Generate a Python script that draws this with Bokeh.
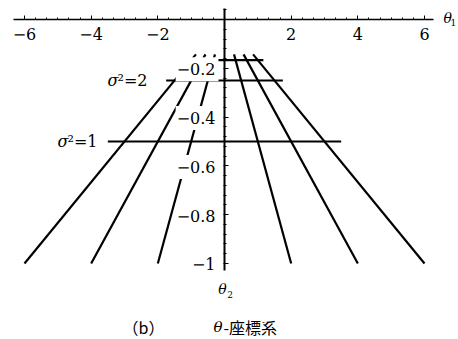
from bokeh.plotting import figure
from bokeh.models import LinearAxis, Range1d, Label, FixedTicker
from bokeh.embed import file_html
from bokeh.resources import INLINE
import numpy as np

# ---- data ----
mu_values = [-3, -2, -1, 1, 2, 3]          # lines of constant mu
sigma2_min, sigma2_max = 0.5, 3.5           # sigma^2 range of the mu lines
sigma2_levels = [1, 2, 3]                   # lines of constant sigma^2
mu_extent = 3.5                             # mu range of the sigma^2 lines
x_ticks = [-6, -4, -2, 2, 4, 6]
x_tick_labels = ["−6", "−4", "−2", "2", "4", "6"]
y_ticks = [-0.2, -0.4, -0.6, -0.8, -1.0]
y_tick_labels = ["−0.2", "−0.4", "−0.6", "−0.8", "−1"]
sigma_label_levels = [2, 1]
sigma_label_rest = ["²=2", "²=1"]

SERIF = "DejaVu Serif"
CJK = "Noto Sans CJK JP"

p = figure(width=458, height=339,
           x_range=Range1d(-6.72, 7.02), y_range=Range1d(-1.3115, 0.0779),
           output_backend="svg", toolbar_location=None,
           x_axis_location=None, y_axis_location=None, min_border=0)
p.outline_line_color = None
p.grid.visible = False
p.background_fill_color = "white"

# ---- axes through the origin ----
x_minor = [v for v in np.arange(-19, 20) / 3.0 if -6.33 <= v <= 6.27]
xaxis = LinearAxis(fixed_location=0, bounds=(-6.33, 6.27),
                   ticker=FixedTicker(ticks=x_ticks, minor_ticks=x_minor))
xaxis.major_label_overrides = {float(t): s for t, s in zip(x_ticks, x_tick_labels)}
xaxis.axis_line_width = 1.6
xaxis.major_tick_in = 4
xaxis.major_tick_out = 0
xaxis.minor_tick_in = 2
xaxis.minor_tick_out = 0
xaxis.major_label_standoff = 8
xaxis.major_label_text_font = SERIF
xaxis.major_label_text_font_size = "16px"
xaxis.major_label_text_color = "black"
p.add_layout(xaxis, "below")

y_minor = [v for v in np.round(np.arange(-1.0, 0.041, 0.04), 3)]
yaxis = LinearAxis(fixed_location=0, bounds=(-1.03, 0.045),
                   ticker=FixedTicker(ticks=y_ticks, minor_ticks=y_minor))
yaxis.major_label_overrides = {float(t): "" for t in y_ticks}
yaxis.axis_line_width = 2
yaxis.major_tick_in = 4
yaxis.major_tick_out = 0
yaxis.minor_tick_in = 2
yaxis.minor_tick_out = 1
p.add_layout(yaxis, "left")

# ---- constant-mu lines (theta1 = mu/s2, theta2 = -1/(2 s2)) ----
p.segment(x0=[m / sigma2_max for m in mu_values],
          y0=[-1 / (2 * sigma2_max)] * len(mu_values),
          x1=[m / sigma2_min for m in mu_values],
          y1=[-1 / (2 * sigma2_min)] * len(mu_values),
          line_color="black", line_width=2.2)

# ---- constant-sigma^2 lines ----
p.segment(x0=[-mu_extent / s for s in sigma2_levels],
          y0=[-1 / (2 * s) for s in sigma2_levels],
          x1=[mu_extent / s for s in sigma2_levels],
          y1=[-1 / (2 * s) for s in sigma2_levels],
          line_color="black", line_width=2.2)

# ---- y tick labels with white boxes (they interrupt the lines) ----
for v, t in zip(y_ticks, y_tick_labels):
    p.add_layout(Label(x=0, y=v, x_offset=-6, y_offset=-1, text=t,
                       text_align="right", text_baseline="middle",
                       text_font=SERIF, text_font_size="16px", text_color="black",
                       background_fill_color="white",
                       padding=dict(left=1, right=3, top=6, bottom=6)))

# ---- sigma^2 labels ----
sig_x = {2: (-3.51, -3.21), 1: (-5.01, -4.71)}
for s, rest in zip(sigma_label_levels, sigma_label_rest):
    xs, xr = sig_x[s]
    p.add_layout(Label(x=xs, y=-1 / (2 * s), text="σ", text_align="left",
                       text_baseline="middle", text_font=SERIF, text_color="black",
                       text_font_style="italic", text_font_size="16px"))
    p.add_layout(Label(x=xr, y=-1 / (2 * s), text=rest, text_align="left",
                       text_baseline="middle", text_font=SERIF, text_color="black",
                       text_font_size="16px"))

# ---- axis names ----
p.add_layout(Label(x=6.57, y=0.008, text="θ", text_align="left", text_baseline="middle",
                   text_font=SERIF, text_font_style="italic", text_font_size="14px",
                   text_color="black"))
p.add_layout(Label(x=6.78, y=-0.012, text="1", text_align="left", text_baseline="middle",
                   text_font=SERIF, text_font_size="9px", text_color="black"))
p.add_layout(Label(x=-0.19, y=-1.1025, text="θ", text_align="left", text_baseline="middle",
                   text_font=SERIF, text_font_style="italic", text_font_size="14px",
                   text_color="black"))
p.add_layout(Label(x=0.08, y=-1.127, text="2", text_align="left", text_baseline="middle",
                   text_font=SERIF, text_font_size="9px", text_color="black"))

# ---- caption ----
p.add_layout(Label(x=-3.06, y=-1.262, text="（b）", text_align="left", text_baseline="middle",
                   text_font=CJK, text_font_size="16px", text_color="black"))
p.add_layout(Label(x=-0.33, y=-1.262, text="θ", text_align="left", text_baseline="middle",
                   text_font=SERIF, text_font_style="italic", text_font_size="15px",
                   text_color="black"))
p.add_layout(Label(x=-0.03, y=-1.262, text="-座標系", text_align="left", text_baseline="middle",
                   text_font=CJK, text_font_size="16px", text_color="black"))

open("out.html", "w").write(file_html(p, INLINE))
